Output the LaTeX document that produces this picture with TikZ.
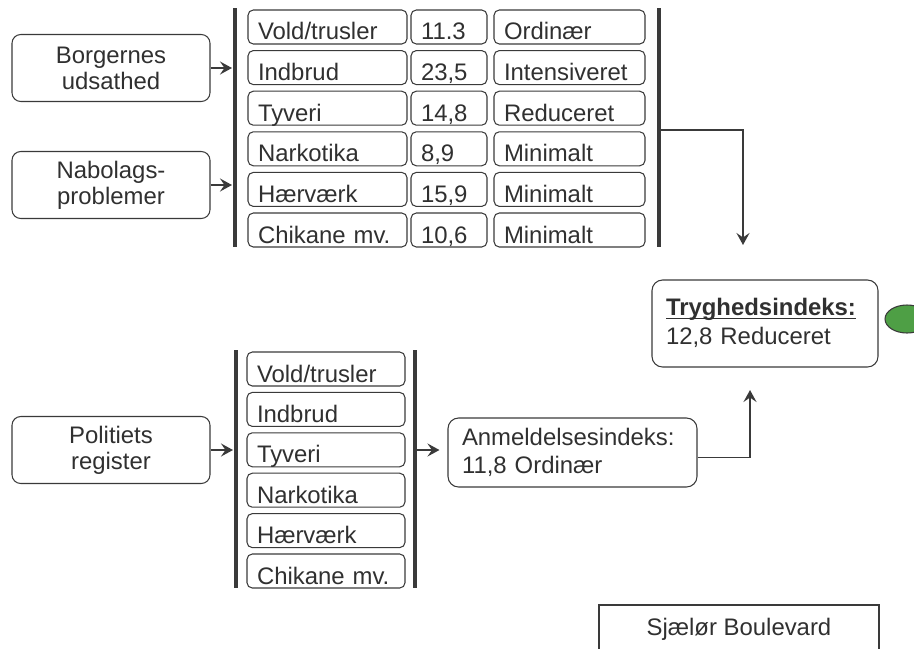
\documentclass[tikz,border=0pt]{standalone}
\usepackage{fontspec}
\setmainfont{Liberation Sans}
\usetikzlibrary{arrows.meta,shapes.geometric}

\definecolor{linje}{HTML}{3A3A3A}
\definecolor{tekst}{HTML}{303030}
\definecolor{groen}{HTML}{4E9F45}

\newcommand*{\topRow}{-0.54}
\newcommand*{\topStep}{0.812}
\newcommand*{\lowRow}{-7.38}
\newcommand*{\lowStep}{0.808}

\begin{document}
\begin{tikzpicture}[
    font=\fontsize{13.6}{14.8}\selectfont, text=tekst,
    kilde/.style={draw=linje, line width=0.6pt, rounded corners=5pt,
        minimum width=3.96cm, minimum height=1.34cm, align=center},
    celle/.style={draw=linje, line width=0.6pt, rounded corners=3pt,
        inner xsep=0.2cm, inner ysep=0pt, text width=#1, align=left,
        text height=0.60cm, text depth=0.08cm},
    indeks/.style={draw=linje, line width=0.6pt, rounded corners=6pt,
        inner xsep=0.28cm, text width=#1, align=left},
    bar/.style={draw=linje, line width=1.8pt},
    pil/.style={draw=linje, line width=1.1pt,
        -{Stealth[length=2.4mm,width=2.6mm,inset=0.9mm]}},
]
\useasboundingbox (0,0) rectangle (18.28,-12.96);

% kilder
\node[kilde] (borg) at (2.22,-1.36) {Borgernes\\udsathed};
\node[kilde] (nabo) at (2.22,-3.70) {Nabolags-\\problemer};
\node[kilde] (pol)  at (2.22,-9.00) {Politiets\\register};

% oeverste tabel
\draw[bar] (4.70,-0.16) -- (4.70,-4.94);
\draw[bar] (13.18,-0.16) -- (13.18,-4.94);
\coordinate (barTL) at (4.70,-2.5);
\coordinate (barTR) at (13.18,-2.60);

\foreach \navn/\tal/\niveau [count=\i from 0] in {{Vold/trusler}/11.3/Ordinær,
        Indbrud/{23,5}/Intensiveret, Tyveri/{14,8}/Reduceret,
        Narkotika/{8,9}/Minimalt, Hærværk/{15,9}/Minimalt,
        {Chikane mv.}/{10,6}/Minimalt} {
    \node[celle=2.78cm] (t\i-a) at (6.55,\topRow-\i*\topStep) {\navn};
    \node[celle=1.12cm] (t\i-b) at (8.98,\topRow-\i*\topStep) {\tal};
    \node[celle=2.62cm] (t\i-c) at (11.39,\topRow-\i*\topStep) {\niveau};
}

% nederste tabel
\draw[bar] (4.72,-7.00) -- (4.72,-11.76);
\draw[bar] (8.30,-7.00) -- (8.30,-11.76);
\coordinate (barBL) at (4.72,-9.0);
\coordinate (barBR) at (8.30,-9.0);

\foreach \navn [count=\i from 0] in {{Vold/trusler}, Indbrud, Tyveri,
        Narkotika, Hærværk, {Chikane mv.}} {
    \node[celle=2.76cm] (b\i) at (6.52,\lowRow-\i*\lowStep) {\navn};
}

% indeks
\node[indeks=3.96cm, minimum height=1.74cm] (tryg) at (15.30,-6.47)
    {\underline{\smash{\textbf{Tryghedsindeks:}}\vphantom{T}}\\[2pt]12,8 Reduceret\\[6pt]};
\node[indeks=4.42cm, minimum height=1.38cm] (anm) at (11.45,-9.05)
    {Anmeldelsesindeks:\\[1pt]11,8 Ordinær};
\node[draw=linje, fill=groen, line width=0.6pt, ellipse,
    minimum width=0.88cm, minimum height=0.56cm, inner sep=0pt] (lys) at (18.14,-6.38) {};
\coordinate (indTop) at (14.86,-4.90);
\coordinate (indBund) at (15.00,-7.80);

\node[draw=linje, line width=0.6pt, minimum width=5.6cm, minimum height=0.96cm]
    (vej) at (14.78,-12.58) {Sjælør Boulevard};

% pile
\draw[pil, shorten >=0.06cm] (borg.east) -- (borg.east -| barTL);
\draw[pil, shorten >=0.06cm] (nabo.east) -- (nabo.east -| barTL);
\draw[pil, shorten >=0.06cm] (pol.east) -- (pol.east -| barBL);
\draw[pil, shorten >=0.16cm] (barBR) -- (barBR -| anm.west);
\draw[pil] (barTR) -| (indTop);
\draw[pil] ([yshift=-0.1cm]anm.east) -| (indBund);

\end{tikzpicture}
\end{document}
